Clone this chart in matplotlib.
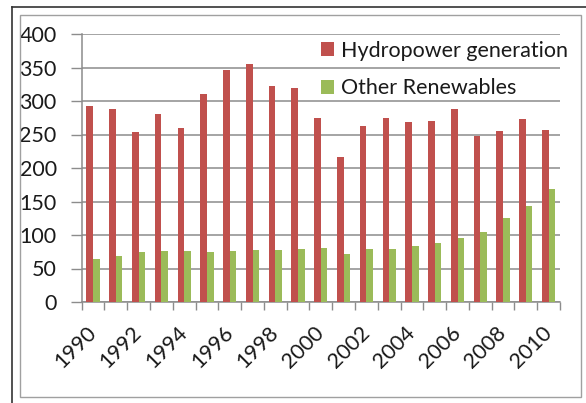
import numpy as np
import matplotlib.pyplot as plt
from matplotlib.patches import Rectangle
from matplotlib.lines import Line2D

## data
years = list(range(1990, 2011))
hydro = [292, 288, 253, 280, 260, 311, 346, 355, 323, 319,
         275, 217, 263, 275, 268, 270, 288, 248, 255, 273, 256]
other = [64, 69, 74, 76, 76, 74, 76, 78, 78, 79,
         81, 71, 79, 79, 83, 88, 96, 105, 125, 143, 168]
yticks = [0, 50, 100, 150, 200, 250, 300, 350, 400]

plt.rcParams['font.family'] = ['Lato', 'DejaVu Sans']
fs = 15.5
txt = '#1a1a1a'

fig = plt.figure(figsize=(5.86, 4.03), dpi=100)
ax = fig.add_axes([81.7/586, 1 - 302/403, (560 - 81.7)/586, (302 - 34)/403])

x = np.arange(len(years))
w = 0.29
ax.bar(x - w/2, hydro, w, color='#C0504D', label='Hydropower generation', zorder=3)
ax.bar(x + w/2, other, w, color='#9BBB59', label='Other Renewables', zorder=3)

ax.set_xlim(-0.5, len(years) - 0.5)
ax.set_ylim(0, 400)
ax.set_yticks(yticks)
ax.set_yticklabels([str(v) for v in yticks], fontsize=fs, color=txt)
ax.yaxis.grid(True, color='#8c8c8c', linewidth=1.1, zorder=0)

# tick marks on category boundaries, labels on every other year
ax.set_xticks(np.arange(-0.5, len(years), 1.0))
ax.set_xticklabels([])
ax.set_xticks(x[::2], minor=True)
ax.set_xticklabels([str(y) for y in years[::2]], minor=True, rotation=45,
                   ha='right', va='center', rotation_mode='anchor', fontsize=fs,
                   color=txt)
ax.tick_params(axis='x', which='minor', length=0, pad=20)
ax.tick_params(axis='x', which='major', length=6, color='#8c8c8c', width=1)
ax.tick_params(axis='y', length=8, color='#8c8c8c', width=1, pad=10)

for s in ['top', 'right']:
    ax.spines[s].set_visible(False)
for s in ['left', 'bottom']:
    ax.spines[s].set_color('#8c8c8c')
    ax.spines[s].set_linewidth(1.1)

leg = ax.legend(loc='upper left', bbox_to_anchor=(0.5, 0.975), frameon=False,
                fontsize=fs, handlelength=0.6, handleheight=0.6,
                handletextpad=0.35, labelspacing=0.82, borderpad=0,
                borderaxespad=0)
for t in leg.get_texts():
    t.set_color(txt)

# chart border and outer frame lines
fig.patches.append(Rectangle((20/586, 1 - 397/403), 561/586, 382/403,
                             transform=fig.transFigure, fill=False,
                             edgecolor='#a0a0a0', linewidth=1))
fig.lines.append(Line2D([12/586, 1], [1 - 7/403, 1 - 7/403],
                        transform=fig.transFigure, color='#333333', linewidth=1.2))
fig.lines.append(Line2D([12/586, 12/586], [0, 1 - 7/403],
                        transform=fig.transFigure, color='#333333', linewidth=1.2))

fig.savefig('out.png', dpi=100, facecolor='white')
